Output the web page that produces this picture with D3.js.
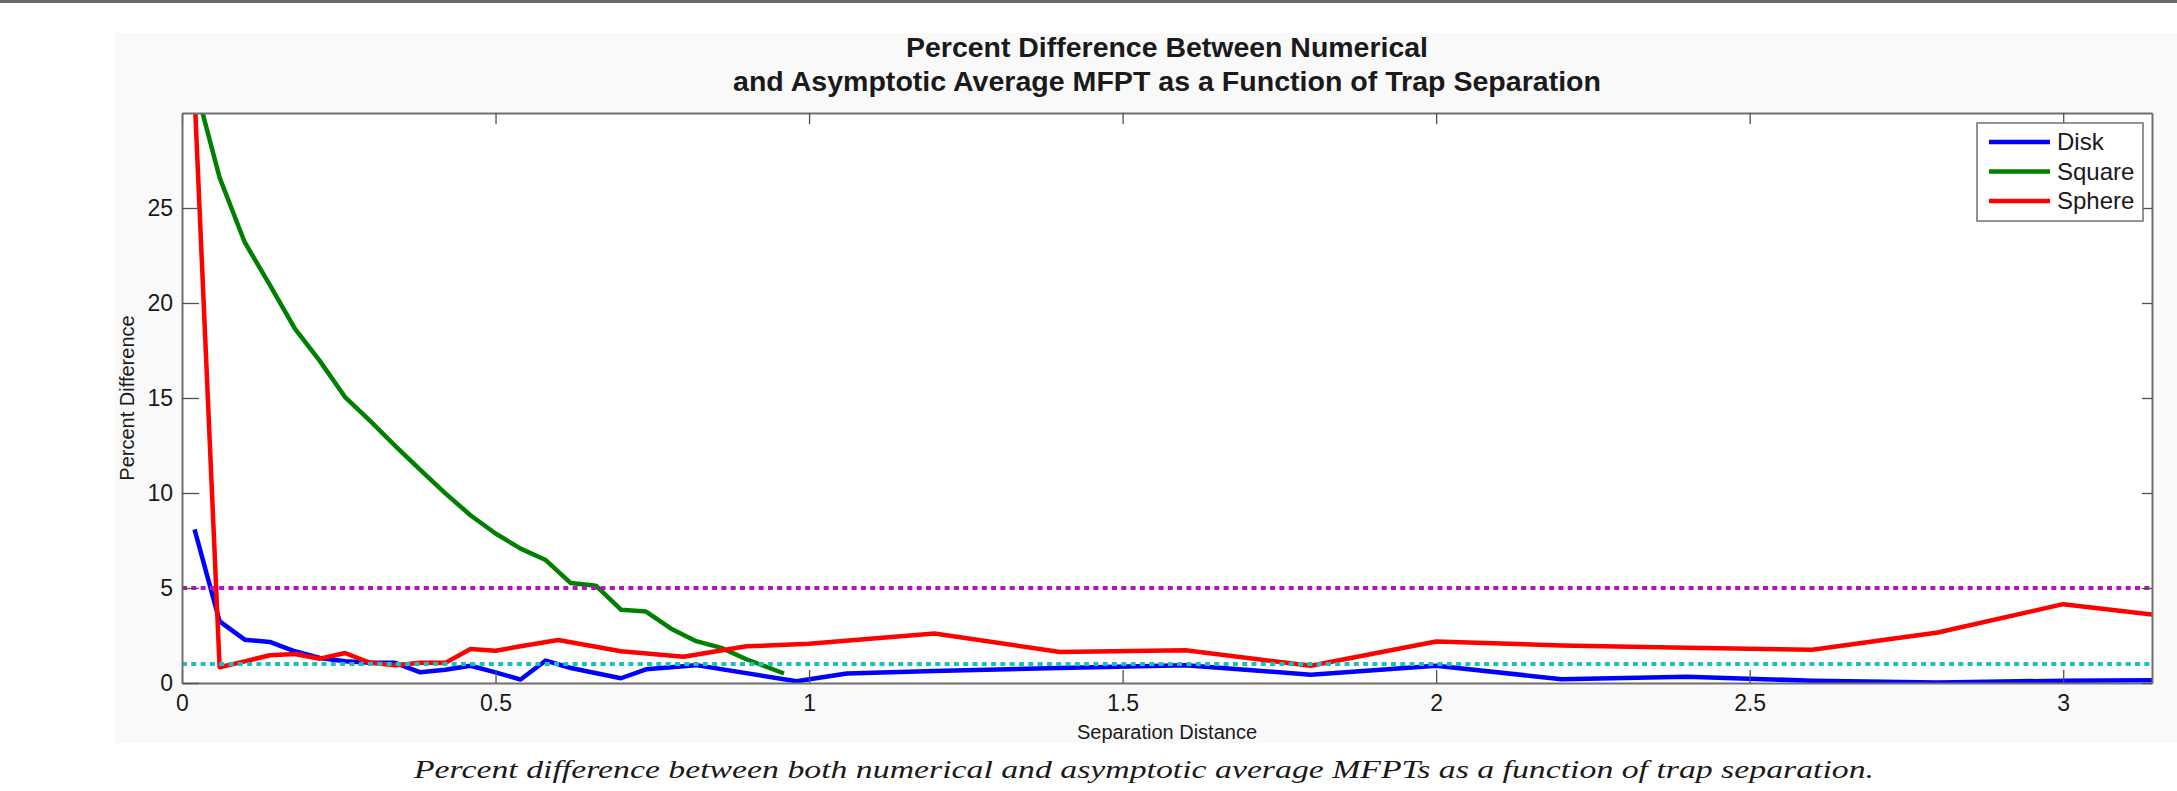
<!DOCTYPE html>
<html>
<head>
<meta charset="utf-8">
<script src="https://cdn.jsdelivr.net/npm/d3@7"></script>
<style>
  body { margin: 0; background: #fff; }
  svg text { font-family: "Liberation Sans", Arial, sans-serif; fill: #1a1a1a; }
</style>
</head>
<body>
<div id="chart"></div>
<script>
// values
const diskX = [0.02, 0.06, 0.10, 0.14, 0.18, 0.22, 0.26, 0.30, 0.34, 0.38, 0.42, 0.46, 0.50, 0.54, 0.58, 0.62,
  0.70, 0.74, 0.82, 0.98, 1.06, 1.2, 1.4, 1.6, 1.8, 2.0, 2.2, 2.4, 2.6, 2.8, 3.0, 3.1416];
const diskY = [8.09, 3.24, 2.28, 2.16, 1.67, 1.32, 1.14, 1.06, 1.06, 0.56, 0.70, 0.91, 0.56, 0.18, 1.18, 0.79,
  0.25, 0.72, 0.94, 0.09, 0.50, 0.63, 0.79, 0.93, 0.44, 0.91, 0.20, 0.33, 0.12, 0.03, 0.12, 0.14];

const squareX = [0.02, 0.06, 0.10, 0.14, 0.18, 0.22, 0.26, 0.30, 0.34, 0.38, 0.42, 0.46, 0.50, 0.54, 0.58, 0.62,
  0.66, 0.70, 0.74, 0.78, 0.82, 0.86, 0.90, 0.96];
const squareY = [31.6, 26.6, 23.2, 20.95, 18.65, 16.94, 15.05, 13.79, 12.48, 11.22, 9.98, 8.83, 7.87, 7.07, 6.47, 5.26,
  5.12, 3.86, 3.76, 2.86, 2.20, 1.85, 1.25, 0.50];

const sphereX = [0.02, 0.06, 0.10, 0.14, 0.18, 0.22, 0.26, 0.30, 0.34, 0.38, 0.42, 0.46, 0.50, 0.54, 0.60,
  0.70, 0.80, 0.90, 1.0, 1.2, 1.4, 1.6, 1.8, 2.0, 2.2, 2.4, 2.6, 2.8, 3.0, 3.1416];
const sphereY = [31, 0.83, 1.14, 1.46, 1.53, 1.28, 1.58, 1.06, 0.93, 1.06, 1.06, 1.79, 1.70, 1.93, 2.26,
  1.67, 1.38, 1.93, 2.06, 2.61, 1.63, 1.72, 0.91, 2.18, 1.98, 1.85, 1.75, 2.66, 4.15, 3.60];

const seriesNames = ['Disk', 'Square', 'Sphere'];
const seriesColors = ['#0000ff', '#008000', '#ff0000'];
const refLevels = [5, 1];
const refColors = ['#b414c0', '#1ebebe'];

const xTicks = [0, 0.5, 1, 1.5, 2, 2.5, 3];
const yTicks = [0, 5, 10, 15, 20, 25];
const xDomain = [0, Math.PI];
const yDomain = [0, 30];

const titleLines = ['Percent Difference Between Numerical', 'and Asymptotic Average MFPT as a Function of Trap Separation'];
const xTitle = 'Separation Distance';
const yTitle = 'Percent Difference';
const caption = 'Percent difference between both numerical and asymptotic average MFPTs as a function of trap separation.';

const W = 2177, H = 791;
const [x0, y0, w0, h0] = [182, 113, 1970, 570];

const svg = d3.select('#chart').append('svg')
  .attr('width', W)
  .attr('height', H);

// page rule + figure background
svg.append('rect').attr('x', 0).attr('y', 0).attr('width', W).attr('height', 3).attr('fill', '#6a6a6a');
svg.append('rect').attr('x', 115).attr('y', 33).attr('width', W - 115).attr('height', 710).attr('fill', '#f9f9f9');
svg.append('rect').attr('x', x0).attr('y', y0).attr('width', w0).attr('height', h0).attr('fill', '#fff');

const xScale = d3.scaleLinear().domain(xDomain).range([0, w0]);
const yScale = d3.scaleLinear().domain(yDomain).range([h0, 0]);

const plot = svg.append('g').attr('transform', `translate(${x0}, ${y0})`);

svg.append('defs').append('clipPath').attr('id', 'clip')
  .append('rect').attr('width', w0).attr('height', h0);

const line = d3.line().x(d => xScale(d[0])).y(d => yScale(d[1]));
const series = [
  d3.zip(diskX, diskY),
  d3.zip(squareX, squareY),
  d3.zip(sphereX, sphereY)
];

const lines = plot.append('g').attr('clip-path', 'url(#clip)');
series.forEach((s, i) => {
  lines.append('path')
    .attr('d', line(s))
    .attr('fill', 'none')
    .attr('stroke', seriesColors[i])
    .attr('stroke-width', 4.5)
    .attr('stroke-linejoin', 'round');
});

refLevels.forEach((v, i) => {
  lines.append('line')
    .attr('x1', 0).attr('x2', w0)
    .attr('y1', yScale(v)).attr('y2', yScale(v))
    .attr('stroke', refColors[i])
    .attr('stroke-width', 4)
    .attr('stroke-dasharray', '5,4.3');
});

// axes, ticks inward on all four sides
const fmt = d => String(d);
const styleAxis = g => {
  g.select('.domain').attr('stroke', '#707070').attr('stroke-width', 2);
  g.selectAll('.tick line').attr('stroke', '#505050').attr('stroke-width', 1.3);
  g.selectAll('.tick text').style('font-size', '23px').attr('fill', '#1a1a1a');
};
plot.append('g').attr('transform', `translate(0, ${h0})`)
  .call(d3.axisBottom(xScale).tickValues(xTicks).tickFormat(fmt).tickSizeInner(-13).tickSizeOuter(0).tickPadding(12))
  .call(styleAxis);
plot.append('g')
  .call(d3.axisTop(xScale).tickValues(xTicks).tickFormat('').tickSizeInner(-11).tickSizeOuter(0))
  .call(styleAxis);
plot.append('g')
  .call(d3.axisLeft(yScale).tickValues(yTicks).tickFormat(fmt).tickSizeInner(-17).tickSizeOuter(0).tickPadding(9))
  .call(styleAxis);
plot.append('g').attr('transform', `translate(${w0}, 0)`)
  .call(d3.axisRight(yScale).tickValues(yTicks).tickFormat('').tickSizeInner(-10).tickSizeOuter(0))
  .call(styleAxis);

// titles
svg.selectAll('.title')
  .data(titleLines)
  .enter()
  .append('text')
  .attr('class', 'title')
  .attr('x', x0 + w0 / 2)
  .attr('y', (d, i) => 57 + i * 34)
  .attr('text-anchor', 'middle')
  .attr('textLength', (d, i) => [522, 868][i])
  .attr('lengthAdjust', 'spacingAndGlyphs')
  .style('font-size', '27px')
  .style('font-weight', 'bold')
  .text(d => d);

svg.append('text')
  .attr('x', x0 + w0 / 2).attr('y', 739)
  .attr('text-anchor', 'middle')
  .style('font-size', '20px')
  .text(xTitle);

svg.append('text')
  .attr('transform', `translate(134, ${y0 + h0 / 2}) rotate(-90)`)
  .attr('text-anchor', 'middle')
  .style('font-size', '20px')
  .text(yTitle);

// legend
const lg = svg.append('g').attr('transform', 'translate(1977, 123)');
lg.append('rect').attr('width', 166).attr('height', 98)
  .attr('fill', '#fff').attr('stroke', '#707070').attr('stroke-width', 1.5);
seriesNames.forEach((name, i) => {
  const yy = 19 + i * 29.5;
  lg.append('line').attr('x1', 12).attr('x2', 73).attr('y1', yy).attr('y2', yy)
    .attr('stroke', seriesColors[i]).attr('stroke-width', 4.5);
  lg.append('text').attr('x', 80).attr('y', yy).attr('dy', '0.35em')
    .style('font-size', '24px').text(name);
});

// caption
svg.append('text')
  .attr('x', 1144).attr('y', 778)
  .attr('text-anchor', 'middle')
  .attr('textLength', 1460)
  .attr('lengthAdjust', 'spacingAndGlyphs')
  .style('font-family', '"Liberation Serif", "DejaVu Serif", serif')
  .style('font-style', 'italic')
  .style('font-size', '26px')
  .text(caption);
</script>
</body>
</html>
